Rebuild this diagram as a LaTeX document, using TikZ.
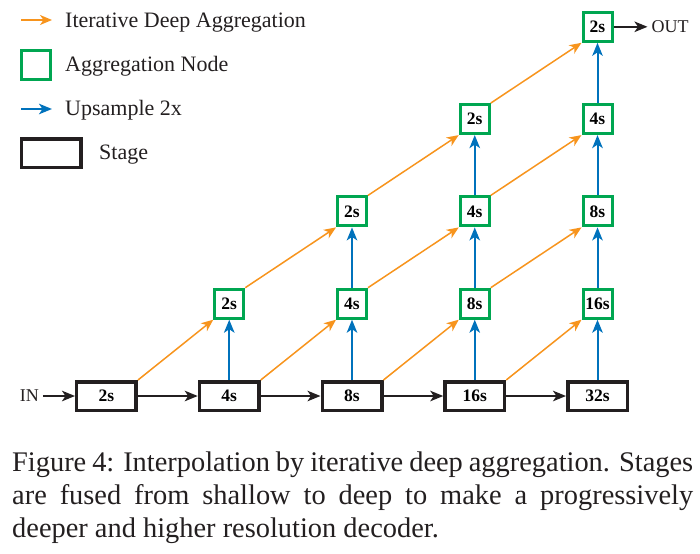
\documentclass[tikz,border=0pt]{standalone}
\usepackage{fontspec}
\setmainfont{Liberation Serif}
\usetikzlibrary{positioning,arrows.meta}
\definecolor{idaorange}{RGB}{247,148,29}
\definecolor{agggreen}{RGB}{0,166,81}
\definecolor{upblue}{RGB}{0,114,188}
\definecolor{stageblack}{RGB}{35,31,32}
\tikzstyle{node:stage}=[rectangle,draw=stageblack,line width=3.5pt,minimum width=59.5pt,minimum height=28.5pt,fill=white,font=\fontsize{17.5}{20}\selectfont\bfseries]
\tikzstyle{node:agg}=[rectangle,draw=agggreen,line width=3pt,minimum size=29pt,inner sep=1pt,fill=white,font=\fontsize{17.5}{20}\selectfont\bfseries]
\tikzstyle{node:legend}=[inner sep=0pt,anchor=base west,font=\fontsize{22}{25}\selectfont,text=stageblack]
\tikzstyle{node:io}=[inner sep=4pt,font=\fontsize{18}{21}\selectfont,text=stageblack]
\tikzstyle{draw:ida}=[-{Stealth[length=12pt,width=10pt,inset=3.5pt]}, idaorange, line width=1.5pt]
\tikzstyle{draw:up}=[-{Stealth[length=13pt,width=10.5pt,inset=3.5pt]}, upblue, line width=2pt]
\tikzstyle{draw:flow}=[-{Stealth[length=13pt,width=10.5pt,inset=3.5pt]}, stageblack, line width=2pt]

\begin{document}
\begin{tikzpicture}[x=122.75pt, y=92.3pt]
        \useasboundingbox (-0.8676,-1.7010) rectangle (4.8350,4.2904);

        % Stages
        \node[node:stage] (stage1) at (0,0) {2s};
        \node[node:stage] (stage2) at (1,0) {4s};
        \node[node:stage] (stage3) at (2,0) {8s};
        \node[node:stage] (stage4) at (3,0) {16s};
        \node[node:stage] (stage5) at (4,0) {32s};

        % Aggregation nodes
        \node[node:agg] (agg11) at (1,1) {2s};
        \node[node:agg] (agg21) at (2,1) {4s};
        \node[node:agg] (agg22) at (2,2) {2s};
        \node[node:agg] (agg31) at (3,1) {8s};
        \node[node:agg] (agg32) at (3,2) {4s};
        \node[node:agg] (agg33) at (3,3) {2s};
        \node[node:agg] (agg41) at (4,1) {16s};
        \node[node:agg] (agg42) at (4,2) {8s};
        \node[node:agg] (agg43) at (4,3) {4s};
        \node[node:agg] (agg44) at (4,4) {2s};

        % Input and output
        \node[node:io, left=32pt of stage1] (in) {IN};
        \node[node:io, right=34pt of agg44] (out) {OUT};

        % Stage path
        \draw[draw:flow] (in) -- (stage1);
        \draw[draw:flow] (stage1) -- (stage2);
        \draw[draw:flow] (stage2) -- (stage3);
        \draw[draw:flow] (stage3) -- (stage4);
        \draw[draw:flow] (stage4) -- (stage5);
        \draw[draw:flow] (agg44) -- (out);

        % Iterative deep aggregation
        \draw[draw:ida] (stage1.north east) -- (agg11.south west);
        \draw[draw:ida] (stage2.north east) -- (agg21.south west);
        \draw[draw:ida] (stage3.north east) -- (agg31.south west);
        \draw[draw:ida] (stage4.north east) -- (agg41.south west);
        \draw[draw:ida] (agg11.north east) -- (agg22.south west);
        \draw[draw:ida] (agg21.north east) -- (agg32.south west);
        \draw[draw:ida] (agg31.north east) -- (agg42.south west);
        \draw[draw:ida] (agg22.north east) -- (agg33.south west);
        \draw[draw:ida] (agg32.north east) -- (agg43.south west);
        \draw[draw:ida] (agg33.north east) -- (agg44.south west);

        % Upsampling
        \draw[draw:up] (stage2) -- (agg11);
        \draw[draw:up] (stage3) -- (agg21);
        \draw[draw:up] (stage4) -- (agg31);
        \draw[draw:up] (stage5) -- (agg41);
        \draw[draw:up] (agg21) -- (agg22);
        \draw[draw:up] (agg31) -- (agg32);
        \draw[draw:up] (agg41) -- (agg42);
        \draw[draw:up] (agg32) -- (agg33);
        \draw[draw:up] (agg42) -- (agg43);
        \draw[draw:up] (agg43) -- (agg44);

        % Legend
        \coordinate (leg_ida_a) at (-0.6965,4.0737);
        \coordinate (leg_ida_b) at (-0.4440,4.0737);
        \draw[draw:ida] (leg_ida_a) -- (leg_ida_b);
        \node[node:legend] (leg_ida) at (-0.3381,3.9978) {Iterative Deep Aggregation};
        \node[node:agg] (leg_agg_box) at (-0.5703,3.5915) {};
        \node[node:legend] (leg_agg) at (-0.3381,3.5103) {Aggregation Node};
        \coordinate (leg_up_a) at (-0.6965,3.1094);
        \coordinate (leg_up_b) at (-0.4440,3.1094);
        \draw[draw:up] (leg_up_a) -- (leg_up_b);
        \node[node:legend] (leg_up) at (-0.3381,3.0336) {Upsample 2x};
        \node[node:stage] (leg_stage_box) at (-0.4481,2.6327) {};
        \node[node:legend] (leg_stage) at (-0.0611,2.5569) {Stage};

        % Caption
        \node[anchor=north west, inner sep=0pt, text width=681pt, align=justify,
              font=\fontsize{28.4}{32.6}\selectfont, text=stageblack] (caption) at (-0.7699,-0.6067)
              {\tolerance=10000\hyphenpenalty=10000 Figure 4: Interpolation by iterative deep aggregation. Stages\linebreak
               are fused from shallow to deep to make a progressively\linebreak
               deeper and higher resolution decoder.};

    \end{tikzpicture}
\end{document}
